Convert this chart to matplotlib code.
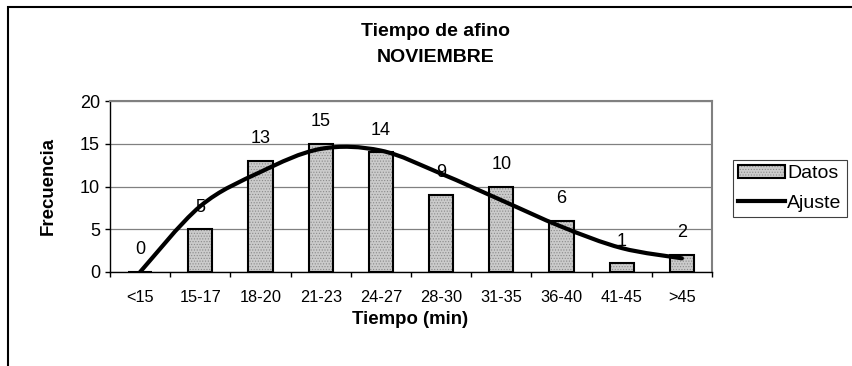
import numpy as np
import matplotlib
matplotlib.use('Agg')
import matplotlib.pyplot as plt
from matplotlib.path import Path
from matplotlib.patches import PathPatch, Rectangle
from matplotlib.lines import Line2D
from matplotlib.legend_handler import HandlerTuple

plt.rcParams['font.family'] = ['Liberation Sans', 'DejaVu Sans']
plt.rcParams['hatch.linewidth'] = 0.5

# tiempo de afino, noviembre
categorias = ['<15', '15-17', '18-20', '21-23', '24-27', '28-30', '31-35', '36-40', '41-45', '>45']
frecuencia = [0, 5, 13, 15, 14, 9, 10, 6, 1, 2]
ajuste = [0.0, 7.7, 11.7, 14.4, 14.2, 11.5, 8.4, 5.3, 2.8, 1.6]

W, H = 852, 366
fig = plt.figure(figsize=(W / 100, H / 100), dpi=100)
ax = fig.add_axes([110 / W, (H - 272) / H, 602 / W, 171 / H])

x = np.arange(len(categorias))

# barras: relleno punteado y borde negro por separado
barras_fondo = ax.bar(x, frecuencia, width=0.4, color='#cbcbcb', edgecolor='#8a8a8a',
                      hatch='......', linewidth=0, zorder=2)
barras_borde = ax.bar(x, frecuencia, width=0.4, fill=False, edgecolor='black',
                      linewidth=1.5, zorder=3)

for xi, v in zip(x, frecuencia):
    ax.annotate(str(v), (xi, v), xytext=(0, 16), textcoords='offset points',
                ha='center', va='center', fontsize=13, zorder=4)

# linea suavizada (bezier tipo Excel) por los puntos del ajuste
pts = np.column_stack([x, ajuste]).astype(float)
verts = [pts[0]]
codes = [Path.MOVETO]
for i in range(len(pts) - 1):
    p0 = pts[i - 1] if i > 0 else pts[i]
    p1 = pts[i]
    p2 = pts[i + 1]
    p3 = pts[i + 2] if i + 2 < len(pts) else pts[i + 1]
    c1 = p1 + (p2 - p0) / 6
    c2 = p2 - (p3 - p1) / 6
    verts += [c1, c2, p2]
    codes += [Path.CURVE4] * 3
curva = PathPatch(Path(verts, codes), fill=False, edgecolor='black', linewidth=3,
                  capstyle='round', zorder=5)
ax.add_patch(curva)

ax.set_xlim(-0.5, len(categorias) - 0.5)
ax.set_ylim(0, 20)
ax.set_yticks([0, 5, 10, 15, 20])
ax.set_xticks(x)
ax.set_xticklabels(categorias)
ax.set_xticks(np.arange(-0.5, len(categorias)), minor=True)
ax.tick_params(axis='x', which='major', length=0, pad=13, labelsize=11.8)
ax.tick_params(axis='x', which='minor', length=3.6, width=1, direction='out')
ax.tick_params(axis='y', length=3.6, width=1, pad=3.6, labelsize=13)

ax.yaxis.grid(True, color='#808080', linewidth=0.9, zorder=0)
ax.set_axisbelow(True)
for lado in ['top', 'right']:
    ax.spines[lado].set_color('#808080')
    ax.spines[lado].set_linewidth(1.5)
for lado in ['left', 'bottom']:
    ax.spines[lado].set_color('black')
    ax.spines[lado].set_linewidth(1)

fig.text(436 / W, 1 - 32 / H, 'Tiempo de afino', ha='center', va='center',
         fontsize=14, fontweight='bold')
fig.text(436 / W, 1 - 57 / H, 'NOVIEMBRE', ha='center', va='center',
         fontsize=14, fontweight='bold')
fig.text(48 / W, 1 - 186 / H, 'Frecuencia', rotation=90, ha='center', va='center',
         fontsize=13.4, fontweight='bold')
fig.text(410 / W, 1 - 320 / H, 'Tiempo (min)', ha='center', va='center',
         fontsize=13.4, fontweight='bold')

linea_ley = Line2D([], [], color='black', linewidth=3)
leg = ax.legend([(barras_fondo[0], barras_borde[0]), linea_ley], ['Datos', 'Ajuste'],
                handler_map={tuple: HandlerTuple(ndivide=1)},
                loc='upper left', bbox_to_anchor=(733 / W, 1 - 160 / H),
                bbox_transform=fig.transFigure, borderaxespad=0, borderpad=0.25,
                handlelength=2.4, handletextpad=0.15, labelspacing=0.6,
                fontsize=14, fancybox=False, framealpha=1, edgecolor='#404040')
leg.get_frame().set_linewidth(0.8)

# marco del area del grafico
fig.add_artist(Rectangle((8 / W, -0.2), 1.2, 1.2 - 7 / H, transform=fig.transFigure,
                         fill=False, edgecolor='black', linewidth=1.5))

fig.savefig('out.png', dpi=100, facecolor='white')
